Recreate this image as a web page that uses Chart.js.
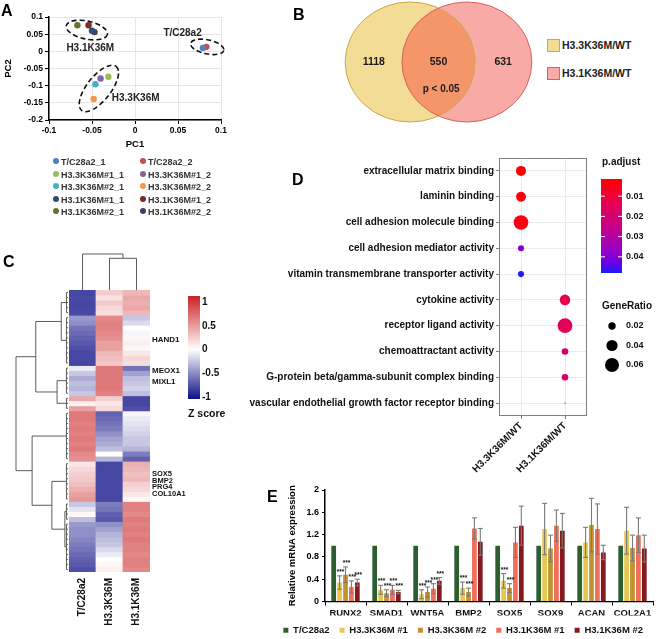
<!DOCTYPE html>
<html>
<head>
<meta charset="utf-8">
<title>Figure</title>
<script src="https://cdn.jsdelivr.net/npm/chart.js@4.4.1/dist/chart.umd.min.js"></script>
<style>
  html, body { margin: 0; padding: 0; background: #fff; }
  #fig { position: relative; width: 658px; height: 639px; overflow: hidden;
         font-family: 'Liberation Sans', Arial, sans-serif; font-weight: bold; color: #000; }
  #fig canvas { position: absolute; }
  .panel { position: absolute; font-size: 16px; line-height: 16px; }
  .leg { position: absolute; white-space: nowrap; line-height: 1; }
</style>
</head>
<body>
<div id="fig">
  <canvas id="pca" width="240" height="160" style="left:0px;top:0px"></canvas>
  <canvas id="venn" width="201" height="124" style="left:338px;top:0px"></canvas>
  <canvas id="heat" width="290" height="399" style="left:0px;top:240px"></canvas>
  <canvas id="go" width="422" height="330" style="left:236px;top:150px"></canvas>
  <canvas id="qpcr" width="403" height="159" style="left:255px;top:480px"></canvas>
  <div class="panel" style="left:1px;top:3px">A</div>
  <div class="panel" style="left:293px;top:7px">B</div>
  <div class="panel" style="left:3px;top:254px">C</div>
  <div class="panel" style="left:292px;top:172px">D</div>
  <div class="panel" style="left:267px;top:489px">E</div>
  <div id="legA"></div>
  <div id="legB"></div>
</div>
<script>
// Multi-panel figure: PCA, Venn, heatmap, GO dot plot, qPCR bars

const FONT = "'Liberation Sans', Arial, sans-serif";
Chart.defaults.font.family = FONT;
Chart.defaults.font.weight = 'bold';
Chart.defaults.color = '#000';
Chart.defaults.animation = false;
Chart.defaults.responsive = false;
Chart.defaults.plugins.legend.display = false;
Chart.defaults.plugins.tooltip.enabled = false;

// ---------- A: PCA ----------
const pcaNames = ['T/C28a2_1', 'T/C28a2_2', 'H3.3K36M#1_1', 'H3.3K36M#1_2', 'H3.3K36M#2_1',
                  'H3.3K36M#2_2', 'H3.1K36M#1_1', 'H3.1K36M#1_2', 'H3.1K36M#2_1', 'H3.1K36M#2_2'];
const pcaColors = ['#4f81bd', '#c0504d', '#9bbb59', '#8064a2', '#4bacc6',
                   '#f79646', '#2c4d75', '#772c2a', '#5f7530', '#4d3b62'];
const pc1 = [0.079, 0.083, -0.031, -0.040, -0.046, -0.048, -0.050, -0.054, -0.067, -0.047];
const pc2 = [0.010, 0.013, -0.074, -0.079, -0.096, -0.139, 0.060, 0.076, 0.076, 0.056];
const pcaGroups = [
  { text: 'H3.1K36M', cx: -0.056, cy: 0.062, rx: 21, ry: 9, rot: 12, tx: -0.052, ty: 0.010, align: 'center' },
  { text: 'H3.3K36M', cx: -0.042, cy: -0.108, rx: 28, ry: 12, rot: -52, tx: -0.027, ty: -0.138, align: 'left' },
  { text: 'T/C28a2', cx: 0.084, cy: 0.013, rx: 17, ry: 7, rot: 12, tx: 0.033, ty: 0.053, align: 'left' },
];

// ---------- B: Venn ----------
const vennSets = ['H3.3K36M/WT', 'H3.1K36M/WT'];
const vennCounts = [1118, 550, 631];
const vennNote = 'p < 0.05';

// ---------- C: heatmap (z scores, one value per row) ----------
const heatCols = ['T/C28a2', 'H3.3K36M', 'H3.1K36M'];
const zTC = [-0.80, -0.78, -0.80, -0.80, -0.78,
  -0.44, -0.48, -0.60, -0.64, -0.68, -0.72, -0.76, -0.80, -0.80, -0.80,
  -0.08, -0.24, -0.36, -0.28, -0.32, -0.24,
  0.44, 0.08, 0.48,
  0.68, 0.68, 0.64, 0.68, 0.64, 0.68, 0.64, 0.68, 0.60, 0.56,
  0.12, 0.20, 0.24, 0.28, 0.32, 0.40, 0.48, 0.52,
  -0.24, -0.12, 0.04, -0.28,
  -0.44, -0.48, -0.48, -0.52, -0.56, -0.60, -0.64, -0.68, -0.72, -0.76];
const zH33 = [0.25, 0.15, 0.28, 0.20, 0.16,
  0.60, 0.64, 0.64, 0.60, 0.56, 0.48, 0.48, 0.36, 0.32, 0.28,
  0.68, 0.68, 0.68, 0.68, 0.68, 0.64,
  0.24, 0.12, 0.20,
  -0.68, -0.64, -0.60, -0.56, -0.48, -0.40, -0.36, -0.28, 0.00, -0.32,
  -0.80, -0.80, -0.80, -0.80, -0.80, -0.80, -0.80, -0.80,
  -0.56, -0.60, -0.68, -0.72,
  -0.48, -0.40, -0.32, -0.28, -0.24, -0.16, -0.08, 0.00, 0.04, 0.08];
const zH31 = [0.36, 0.44, 0.40, 0.44, 0.36,
  -0.24, -0.16, 0.00, -0.04, 0.04, 0.08, 0.04, 0.12, 0.20, 0.16,
  -0.60, -0.40, -0.28, -0.24, -0.20, -0.28,
  -0.80, -0.80, -0.76,
  -0.04, -0.08, -0.12, -0.16, -0.20, -0.24, -0.24, -0.32, -0.56, -0.68,
  0.40, 0.36, 0.32, 0.36, 0.24, 0.20, 0.12, 0.04,
  0.64, 0.64, 0.60, 0.68,
  0.64, 0.68, 0.64, 0.68, 0.64, 0.64, 0.60, 0.64, 0.64, 0.60];
const heatGenes = ['HAND1', 'MEOX1', 'MIXL1', 'SOX5', 'BMP2', 'PRG4', 'COL10A1'];
const heatGeneRows = [9.9, 16.1, 18.3, 36.6, 37.9, 39.2, 40.5];
// row clusters [firstRow, endRow) and merges [childA, childB, height]
const rowLeaves = [[0, 5], [5, 15], [15, 21], [21, 24], [24, 34], [34, 42], [42, 46], [46, 56]];
const rowMerges = [[0, 1, 1.3], [2, 3, 2.1], [8, 9, 6.2], [6, 7, 0.6], [5, 11, 3.1], [4, 12, 6.9], [10, 13, 10]];
const colMerges = [[1, 2, 0.88], [0, 3, 1.0]];

// ---------- D: GO enrichment ----------
const goTerms = ['extracellular matrix binding', 'laminin binding', 'cell adhesion molecule binding',
  'cell adhesion mediator activity', 'vitamin transmembrane transporter activity', 'cytokine activity',
  'receptor ligand activity', 'chemoattractant activity', 'G-protein beta/gamma-subunit complex binding',
  'vascular endothelial growth factor receptor binding'];
const goCompare = ['H3.3K36M/WT', 'H3.1K36M/WT'];
const goGroup = ['H3.3K36M/WT', 'H3.3K36M/WT', 'H3.3K36M/WT', 'H3.3K36M/WT', 'H3.3K36M/WT',
  'H3.1K36M/WT', 'H3.1K36M/WT', 'H3.1K36M/WT', 'H3.1K36M/WT', 'H3.1K36M/WT'];
const geneRatio = [0.033, 0.032, 0.065, 0.015, 0.015, 0.036, 0.066, 0.017, 0.017, 0.005];
const pAdjust = [0.002, 0.003, 0.004, 0.039, 0.047, 0.013, 0.015, 0.020, 0.019, 0.043];
const pTicks = [0.01, 0.02, 0.03, 0.04];
const ratioTicks = [0.02, 0.04, 0.06];

// ---------- E: qPCR ----------
const genes = ['RUNX2', 'SMAD1', 'WNT5A', 'BMP2', 'SOX5', 'SOX9', 'ACAN', 'COL2A1'];
const seriesNames = ['T/C28a2', 'H3.3K36M #1', 'H3.3K36M #2', 'H3.1K36M #1', 'H3.1K36M #2'];
const seriesColors = ['#2d5e2f', '#e9c74f', '#c4912f', '#ef6f5a', '#84191f'];
const wtExpr = [1, 1, 1, 1, 1, 1, 1, 1];
const h33m1 = [0.34, 0.21, 0.13, 0.24, 0.37, 1.30, 1.06, 1.27];
const h33m1Err = [0.12, 0.08, 0.08, 0.11, 0.13, 0.46, 0.27, 0.42];
const h33m2 = [0.48, 0.15, 0.17, 0.17, 0.24, 0.95, 1.37, 0.96];
const h33m2Err = [0.14, 0.06, 0.09, 0.07, 0.08, 0.24, 0.48, 0.23];
const h31m1 = [0.26, 0.21, 0.23, 1.31, 1.06, 1.36, 1.30, 1.19];
const h31m1Err = [0.11, 0.08, 0.09, 0.19, 0.27, 0.28, 0.45, 0.31];
const h31m2 = [0.34, 0.17, 0.37, 1.07, 1.36, 1.27, 0.88, 0.95];
const h31m2Err = [0.06, 0.03, 0.06, 0.24, 0.35, 0.31, 0.13, 0.24];
const h33m1Sig = ['***', '***', '***', '***', '***', '', '', ''];
const h33m2Sig = ['***', '***', '***', '***', '***', '', '', ''];
const h31m1Sig = ['***', '***', '***', '', '', '', '', ''];
const h31m2Sig = ['***', '***', '***', '', '', '', '', ''];

// ---------- helpers ----------
function zColor(z) {
  const t = Math.max(-1, Math.min(1, z / 1.1));
  const c = t >= 0 ? [205, 38, 38] : [0, 0, 128];
  const a = Math.abs(t);
  const m = k => Math.round(255 + (c[k] - 255) * a);
  return `rgb(${m(0)},${m(1)},${m(2)})`;
}

// red -> blue gradient (Lab-like stops)
const P_MIN = 0.0015, P_MAX = 0.048;
const pStops = [[0, [255, 0, 0]], [0.25, [232, 0, 80]], [0.5, [202, 0, 137]],
                [0.75, [154, 0, 195]], [0.9, [104, 0, 231]], [1, [20, 30, 255]]];
function pColor(p) {
  const t = Math.max(0, Math.min(1, (p - P_MIN) / (P_MAX - P_MIN)));
  for (let i = 1; i < pStops.length; i++) {
    if (t <= pStops[i][0]) {
      const [t0, c0] = pStops[i - 1], [t1, c1] = pStops[i];
      const f = (t - t0) / (t1 - t0);
      const m = k => Math.round(c0[k] + (c1[k] - c0[k]) * f);
      return `rgb(${m(0)},${m(1)},${m(2)})`;
    }
  }
  return 'rgb(20,30,255)';
}

function ratioRadius(r) {
  return Math.sqrt(Math.max(0.5, -3.9 + 882 * r));
}

function fmt(v) {
  return String(+v.toFixed(2));
}

function line(ctx, x1, y1, x2, y2) {
  ctx.beginPath();
  ctx.moveTo(x1, y1);
  ctx.lineTo(x2, y2);
  ctx.stroke();
}

// ---------- A ----------
const pcaClusters = {
  id: 'pcaClusters',
  afterDatasetsDraw(chart) {
    const { ctx, scales: { x, y } } = chart;
    ctx.save();
    pcaGroups.forEach(g => {
      ctx.beginPath();
      ctx.setLineDash([5, 3]);
      ctx.lineWidth = 1.6;
      ctx.strokeStyle = '#111';
      ctx.ellipse(x.getPixelForValue(g.cx), y.getPixelForValue(g.cy), g.rx, g.ry,
                  g.rot * Math.PI / 180, 0, Math.PI * 2);
      ctx.stroke();
      ctx.setLineDash([]);
      ctx.font = `bold 10px ${FONT}`;
      ctx.fillStyle = '#222';
      ctx.textAlign = g.align;
      ctx.textBaseline = 'middle';
      ctx.fillText(g.text, x.getPixelForValue(g.tx), y.getPixelForValue(g.ty));
    });
    ctx.restore();
  }
};

new Chart(document.getElementById('pca'), {
  type: 'scatter',
  data: {
    datasets: pcaNames.map((n, i) => ({
      label: n,
      data: [{ x: pc1[i], y: pc2[i] }],
      backgroundColor: pcaColors[i],
      borderColor: pcaColors[i],
      pointRadius: 3.2,
      borderWidth: 0,
    }))
  },
  options: {
    layout: { padding: { top: 17, right: 19, left: 0, bottom: 0 } },
    scales: {
      x: {
        min: -0.1, max: 0.1,
        ticks: { stepSize: 0.05, font: { size: 8.5 }, padding: 2, callback: v => fmt(v) },
        grid: { color: '#e6e6e6', tickColor: '#000', tickLength: 4 },
        border: { color: '#000', width: 1.5 },
        title: { display: true, text: 'PC1', font: { size: 9.5 }, padding: { bottom: 9.5, top: 0 } },
        afterFit: s => { s.height = 40; }
      },
      y: {
        min: -0.2, max: 0.1,
        ticks: { stepSize: 0.05, font: { size: 8.5 }, padding: 2, callback: v => fmt(v) },
        grid: { color: '#e6e6e6', tickColor: '#000', tickLength: 4 },
        border: { color: '#000', width: 1.5 },
        title: { display: true, text: 'PC2', font: { size: 9.5 }, padding: { top: 3 } },
        afterFit: s => { s.width = 49; }
      }
    }
  },
  plugins: [pcaClusters]
});

// legend A (two columns)
const legA = document.getElementById('legA');
pcaNames.forEach((n, i) => {
  const col = i % 2, row = Math.floor(i / 2);
  const el = document.createElement('div');
  el.className = 'leg';
  el.style.left = (col ? 140 : 53) + 'px';
  el.style.top = (158 + row * 12.6) + 'px';
  el.style.fontSize = '9px';
  el.style.color = '#333';
  el.innerHTML = `<span style="display:inline-block;width:6px;height:6px;border-radius:3px;background:${pcaColors[i]};margin-right:2px;vertical-align:1px"></span>${n}`;
  legA.appendChild(el);
});

// ---------- B ----------
const vennDraw = {
  id: 'vennDraw',
  afterDraw(chart) {
    const { ctx, scales: { x, y } } = chart;
    const rx = x.getPixelForValue(1) - x.getPixelForValue(0);
    const ry = y.getPixelForValue(0) - y.getPixelForValue(1);
    const cy = y.getPixelForValue(0);
    const cl = x.getPixelForValue(-0.43), cr = x.getPixelForValue(0.43);
    const path = cx => { ctx.beginPath(); ctx.ellipse(cx, cy, rx - 1, ry - 1, 0, 0, Math.PI * 2); };
    ctx.save();
    path(cl); ctx.fillStyle = '#f3dd96'; ctx.fill();
    path(cr); ctx.fillStyle = '#f8aaa6'; ctx.fill();
    ctx.save(); path(cl); ctx.clip(); path(cr); ctx.fillStyle = '#f4966a'; ctx.fill(); ctx.restore();
    ctx.lineWidth = 1;
    path(cl); ctx.strokeStyle = '#c9a84c'; ctx.stroke();
    path(cr); ctx.strokeStyle = '#d6625c'; ctx.stroke();
    ctx.fillStyle = '#1a1a1a';
    ctx.font = `bold 10.5px ${FONT}`;
    ctx.textAlign = 'center';
    ctx.textBaseline = 'middle';
    [-0.98, 0, 0.98].forEach((px, i) => ctx.fillText(String(vennCounts[i]), x.getPixelForValue(px), cy));
    ctx.font = `bold 10px ${FONT}`;
    ctx.fillText(vennNote, x.getPixelForValue(0.04), y.getPixelForValue(-0.44));
    ctx.restore();
  }
};

new Chart(document.getElementById('venn'), {
  type: 'scatter',
  data: { datasets: [] },
  options: {
    layout: { padding: 0 },
    scales: {
      x: { type: 'linear', min: -1.523, max: 1.523, display: false },
      y: { type: 'linear', min: -1.016, max: 1.016, display: false }
    }
  },
  plugins: [vennDraw]
});

const legB = document.getElementById('legB');
const vennLegFill = ['#f3dd96', '#f8aaa6'], vennLegLine = ['#c9a84c', '#d6625c'];
vennSets.forEach((s, i) => {
  const box = document.createElement('div');
  box.className = 'leg';
  box.style.cssText += `left:547px;top:${39 + i * 28}px;width:11px;height:11px;background:${vennLegFill[i]};border:1px solid ${vennLegLine[i]};`;
  legB.appendChild(box);
  const t = document.createElement('div');
  t.className = 'leg';
  t.style.cssText += `left:562px;top:${40 + i * 28}px;font-size:10.5px;color:#222;`;
  t.textContent = s;
  legB.appendChild(t);
});

// ---------- C ----------
const heatExtras = {
  id: 'heatExtras',
  afterDraw(chart) {
    const { ctx, chartArea: area, scales: { x: xs, y: ys } } = chart;
    ctx.save();
    ctx.strokeStyle = '#4a4a4a';
    ctx.lineWidth = 0.9;

    // row dendrogram
    const LEAF_H = 0.3;
    const X = h => area.left - 1 - h * 5.2;
    const Y = v => ys.getPixelForValue(v);
    const nodes = rowLeaves.map(([a, b]) => ({ y: (a + b) / 2, h: LEAF_H, leaf: [a, b] }));
    rowMerges.forEach(([i, j, h]) => nodes.push({ y: (nodes[i].y + nodes[j].y) / 2, h, kids: [i, j] }));
    nodes.forEach(n => {
      if (n.kids) {
        const [a, b] = n.kids.map(k => nodes[k]);
        line(ctx, X(n.h), Y(a.y), X(n.h), Y(b.y));
        line(ctx, X(n.h), Y(a.y), X(a.h), Y(a.y));
        line(ctx, X(n.h), Y(b.y), X(b.h), Y(b.y));
      } else {
        const [s, e] = n.leaf;
        line(ctx, X(LEAF_H), Y(s + 0.5), X(LEAF_H), Y(e - 0.5));
        for (let k = s; k < e; k++) line(ctx, X(LEAF_H), Y(k + 0.5), X(0), Y(k + 0.5));
      }
    });

    // column dendrogram
    const CX = v => xs.getPixelForValue(v);
    const CY = h => area.top - h * 36;
    const cn = heatCols.map((_, i) => ({ x: i, h: 0 }));
    colMerges.forEach(([i, j, h]) => cn.push({ x: (cn[i].x + cn[j].x) / 2, h, kids: [i, j] }));
    cn.forEach(n => {
      if (!n.kids) return;
      const [a, b] = n.kids.map(k => cn[k]);
      line(ctx, CX(a.x), CY(n.h), CX(b.x), CY(n.h));
      line(ctx, CX(a.x), CY(n.h), CX(a.x), CY(a.h));
      line(ctx, CX(b.x), CY(n.h), CX(b.x), CY(b.h));
    });

    // gene labels
    ctx.fillStyle = '#111';
    ctx.textAlign = 'left';
    ctx.textBaseline = 'middle';
    heatGenes.forEach((g, i) => {
      ctx.font = `bold ${i < 3 ? 8 : 7.5}px ${FONT}`;
      ctx.fillText(g, area.right + 2, Y(heatGeneRows[i]));
    });

    // colour bar
    const cbX = 188, cbW = 12, cbTop = 56, cbBot = 159, zTop = 1.13, zBot = -1.04;
    for (let py = cbTop; py < cbBot; py++) {
      const z = zTop + (py + 0.5 - cbTop) / (cbBot - cbTop) * (zBot - zTop);
      ctx.fillStyle = zColor(z);
      ctx.fillRect(cbX, py, cbW, 1);
    }
    ctx.fillStyle = '#111';
    ctx.font = `bold 10px ${FONT}`;
    [1, 0.5, 0, -0.5, -1].forEach(z => {
      const py = cbTop + (zTop - z) / (zTop - zBot) * (cbBot - cbTop);
      ctx.fillText(String(z), cbX + 14, py);
    });
    ctx.font = `bold 10.5px ${FONT}`;
    ctx.fillText('Z score', cbX, 174);
    ctx.restore();
  }
};

new Chart(document.getElementById('heat'), {
  type: 'bar',
  data: {
    labels: heatCols,
    datasets: zTC.map((_, i) => ({
      data: [1, 1, 1],
      backgroundColor: [zColor(zTC[i]), zColor(zH33[i]), zColor(zH31[i])],
      borderWidth: 0,
      barPercentage: 1,
      categoryPercentage: 1,
      inflateAmount: 0.4,
    }))
  },
  options: {
    layout: { padding: { left: 69, right: 140, top: 50, bottom: 0 } },
    scales: {
      x: {
        stacked: true,
        grid: { display: false, drawTicks: false },
        border: { display: false },
        ticks: { font: { size: 10 }, minRotation: 90, maxRotation: 90, padding: 6, color: '#111' },
        afterFit: s => { s.height = 67; }
      },
      y: { stacked: true, min: 0, max: zTC.length, reverse: true, display: false }
    }
  },
  plugins: [heatExtras]
});

// ---------- D ----------
const goExtras = {
  id: 'goExtras',
  afterDraw(chart) {
    const { ctx, chartArea: a } = chart;
    ctx.save();
    ctx.strokeStyle = '#7f7f7f';
    ctx.lineWidth = 1;
    ctx.strokeRect(a.left + 0.5, a.top + 0.5, a.width - 1, a.height - 1);

    // p.adjust colour bar
    const bx = 365, bw = 21, top = 29, bot = 123;
    for (let py = top; py < bot; py++) {
      const p = P_MIN + (py + 0.5 - top) / (bot - top) * (P_MAX - P_MIN);
      ctx.fillStyle = pColor(p);
      ctx.fillRect(bx, py, bw, 1);
    }
    ctx.fillStyle = '#111';
    ctx.font = `bold 10px ${FONT}`;
    ctx.textAlign = 'left';
    ctx.textBaseline = 'middle';
    ctx.fillText('p.adjust', 366, 12);
    ctx.font = `bold 9px ${FONT}`;
    ctx.strokeStyle = '#fff';
    pTicks.forEach(p => {
      const py = top + (p - P_MIN) / (P_MAX - P_MIN) * (bot - top);
      line(ctx, bx, py, bx + 4, py);
      line(ctx, bx + bw - 4, py, bx + bw, py);
      ctx.fillText(String(p), 390, py);
    });

    // GeneRatio size legend
    ctx.font = `bold 10px ${FONT}`;
    ctx.fillText('GeneRatio', 366, 156);
    ctx.font = `bold 9px ${FONT}`;
    ratioTicks.forEach((r, i) => {
      const py = 176 + i * 19.5;
      ctx.beginPath();
      ctx.arc(376, py, ratioRadius(r), 0, Math.PI * 2);
      ctx.fillStyle = '#000';
      ctx.fill();
      ctx.fillStyle = '#111';
      ctx.fillText(String(r), 390, py);
    });
    ctx.restore();
  }
};

new Chart(document.getElementById('go'), {
  type: 'bubble',
  data: {
    datasets: [{
      data: goTerms.map((t, i) => ({ x: goGroup[i], y: t, r: ratioRadius(geneRatio[i]) })),
      backgroundColor: pAdjust.map(pColor),
      borderWidth: 0,
      clip: false,
    }]
  },
  options: {
    layout: { padding: { top: 2, right: 71, left: 0, bottom: 0 } },
    scales: {
      x: {
        type: 'category', labels: goCompare, offset: true,
        grid: { color: '#ebebeb', tickColor: '#7f7f7f', tickLength: 3 },
        border: { display: false },
        ticks: { font: { size: 10 }, minRotation: 45, maxRotation: 45, autoSkip: false, padding: 1, color: '#111' },
        afterFit: s => { s.height = 64; }
      },
      y: {
        type: 'category', labels: goTerms, offset: true,
        grid: { color: '#ebebeb', tickColor: '#7f7f7f', tickLength: 3 },
        border: { display: false },
        ticks: { font: { size: 10 }, autoSkip: false, padding: 2, color: '#111' },
        afterFit: s => { s.width = 263; }
      }
    }
  },
  plugins: [goExtras]
});

// ---------- E ----------
const qpcrErrors = [null, h33m1Err, h33m2Err, h31m1Err, h31m2Err];
const qpcrSig = [null, h33m1Sig, h33m2Sig, h31m1Sig, h31m2Sig];
const qpcrExtras = {
  id: 'qpcrExtras',
  afterDatasetsDraw(chart) {
    const { ctx, scales: { y } } = chart;
    ctx.save();
    chart.data.datasets.forEach((ds, d) => {
      const err = qpcrErrors[d];
      if (!err) return;
      chart.getDatasetMeta(d).data.forEach((bar, i) => {
        const v = ds.data[i];
        const top = y.getPixelForValue(v + err[i]);
        const bot = y.getPixelForValue(Math.max(0, v - err[i]));
        ctx.strokeStyle = '#7a7a7a';
        ctx.lineWidth = 1.1;
        line(ctx, bar.x, top, bar.x, bot);
        line(ctx, bar.x - 2.5, top, bar.x + 2.5, top);
        line(ctx, bar.x - 2.5, bot, bar.x + 2.5, bot);
        const s = qpcrSig[d][i];
        if (s) {
          ctx.font = `bold 6.5px ${FONT}`;
          ctx.fillStyle = '#111';
          ctx.textAlign = 'center';
          ctx.textBaseline = 'alphabetic';
          ctx.fillText(s, bar.x + 1, top - 2);
        }
      });
    });
    ctx.restore();
  }
};

const qpcrValues = [wtExpr, h33m1, h33m2, h31m1, h31m2];
new Chart(document.getElementById('qpcr'), {
  type: 'bar',
  data: {
    labels: genes,
    datasets: seriesNames.map((n, i) => ({
      label: n,
      data: qpcrValues[i],
      backgroundColor: seriesColors[i],
      borderWidth: 0,
      barPercentage: 0.8,
      categoryPercentage: 0.72,
    }))
  },
  options: {
    layout: { padding: { top: 10, right: 5, left: 0, bottom: -6 } },
    plugins: {
      legend: {
        display: true, position: 'bottom', align: 'end',
        labels: { boxWidth: 5, boxHeight: 5, padding: 10, font: { size: 9.5 }, color: '#111' }
      }
    },
    scales: {
      x: {
        grid: { drawOnChartArea: false, tickLength: 4, tickColor: '#000', offset: true },
        border: { color: '#000', width: 1.2 },
        ticks: { font: { size: 9.5 }, padding: 2, color: '#111', maxRotation: 0 },
        afterFit: s => { s.height = 14; }
      },
      y: {
        min: 0, max: 2,
        ticks: { stepSize: 0.4, font: { size: 9 }, padding: 3, callback: v => fmt(v) },
        grid: { drawOnChartArea: false, tickLength: 3, tickColor: '#000' },
        border: { color: '#000', width: 1.5 },
        title: { display: true, text: 'Relative mRNA expression', font: { size: 9.5 }, padding: { top: 32 } },
        afterFit: s => { s.width = 70; }
      }
    }
  },
  plugins: [qpcrExtras]
});
</script>
</body>
</html>
